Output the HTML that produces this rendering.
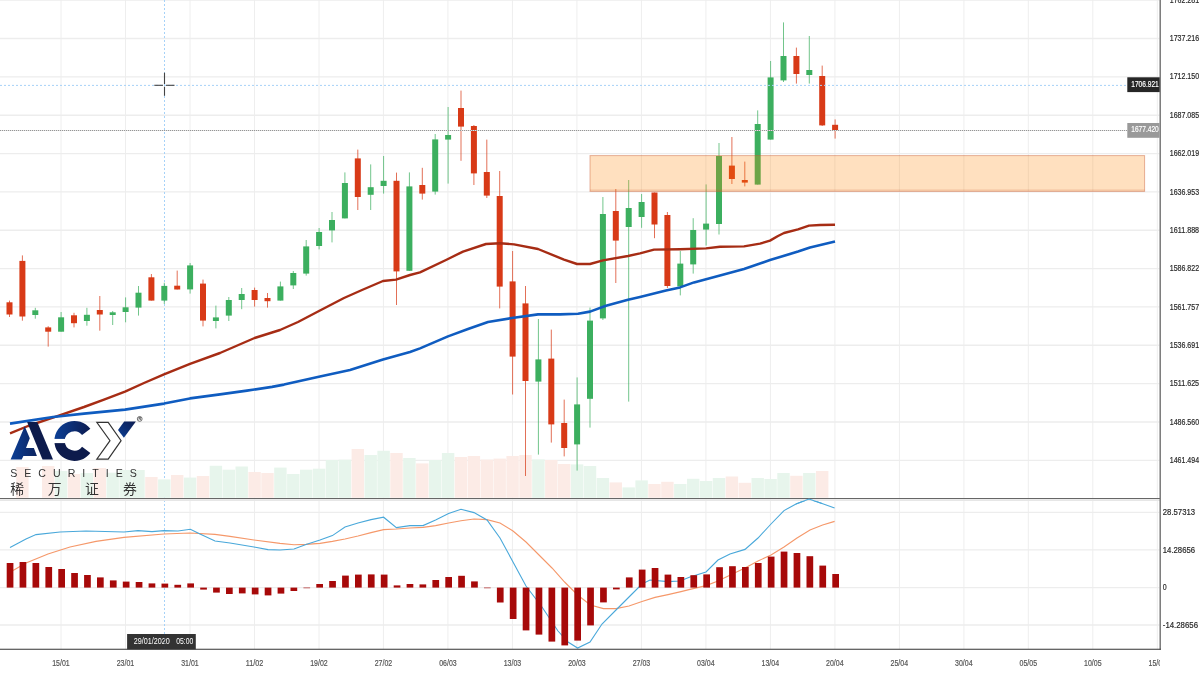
<!DOCTYPE html>
<html lang="zh"><head><meta charset="utf-8"><title>Chart</title>
<style>html,body{margin:0;padding:0;background:#fff;overflow:hidden}svg{display:block}</style></head>
<body>
<svg width="1200" height="675" viewBox="0 0 1200 675" font-family="'Liberation Sans', 'Noto Sans CJK SC', sans-serif">
<defs>
<linearGradient id="gA" x1="0" y1="0" x2="1" y2="0"><stop offset="0" stop-color="#0b3f96"/><stop offset="1" stop-color="#0d2460"/></linearGradient>
<linearGradient id="gC" x1="0" y1="0" x2="1" y2="0"><stop offset="0" stop-color="#0b3f96"/><stop offset="1" stop-color="#0d1c50"/></linearGradient>
<linearGradient id="gY" x1="0" y1="1" x2="1" y2="0"><stop offset="0" stop-color="#0b3f96"/><stop offset="1" stop-color="#0d1c50"/></linearGradient>
<clipPath id="cpMain"><rect x="0" y="0" width="1159.5" height="498"/></clipPath>
<clipPath id="cpMacd"><rect x="0" y="499" width="1159.5" height="150"/></clipPath>
<clipPath id="cpX"><rect x="0" y="650" width="1160" height="25"/></clipPath>
</defs>
<rect width="1200" height="675" fill="#fff"/>
<g stroke="#eeeeee" stroke-width="1">
<line x1="61.0" y1="0" x2="61.0" y2="649"/>
<line x1="125.5" y1="0" x2="125.5" y2="649"/>
<line x1="190.0" y1="0" x2="190.0" y2="649"/>
<line x1="254.5" y1="0" x2="254.5" y2="649"/>
<line x1="319.0" y1="0" x2="319.0" y2="649"/>
<line x1="383.4" y1="0" x2="383.4" y2="649"/>
<line x1="447.9" y1="0" x2="447.9" y2="649"/>
<line x1="512.4" y1="0" x2="512.4" y2="649"/>
<line x1="576.9" y1="0" x2="576.9" y2="649"/>
<line x1="641.4" y1="0" x2="641.4" y2="649"/>
<line x1="705.9" y1="0" x2="705.9" y2="649"/>
<line x1="770.4" y1="0" x2="770.4" y2="649"/>
<line x1="834.9" y1="0" x2="834.9" y2="649"/>
<line x1="899.4" y1="0" x2="899.4" y2="649"/>
<line x1="963.9" y1="0" x2="963.9" y2="649"/>
<line x1="1028.3" y1="0" x2="1028.3" y2="649"/>
<line x1="1092.8" y1="0" x2="1092.8" y2="649"/>
<line x1="1157.3" y1="0" x2="1157.3" y2="649"/>
</g>
<g stroke="#ededed" stroke-width="1.4">
<line x1="0" y1="0.1" x2="1159.5" y2="0.1"/>
<line x1="0" y1="38.5" x2="1159.5" y2="38.5"/>
<line x1="0" y1="76.9" x2="1159.5" y2="76.9"/>
<line x1="0" y1="115.2" x2="1159.5" y2="115.2"/>
<line x1="0" y1="153.6" x2="1159.5" y2="153.6"/>
<line x1="0" y1="191.9" x2="1159.5" y2="191.9"/>
<line x1="0" y1="230.3" x2="1159.5" y2="230.3"/>
<line x1="0" y1="268.6" x2="1159.5" y2="268.6"/>
<line x1="0" y1="306.9" x2="1159.5" y2="306.9"/>
<line x1="0" y1="345.3" x2="1159.5" y2="345.3"/>
<line x1="0" y1="383.6" x2="1159.5" y2="383.6"/>
<line x1="0" y1="422.0" x2="1159.5" y2="422.0"/>
<line x1="0" y1="460.4" x2="1159.5" y2="460.4"/>
<line x1="0" y1="512.4" x2="1159.5" y2="512.4"/>
<line x1="0" y1="549.9" x2="1159.5" y2="549.9"/>
<line x1="0" y1="587.6" x2="1159.5" y2="587.6"/>
<line x1="0" y1="625" x2="1159.5" y2="625"/>
</g>
<g stroke="#a6d2f8" stroke-width="1" stroke-dasharray="2 2">
<line x1="164.5" y1="0" x2="164.5" y2="634"/>
</g>
<g>
<rect x="16.2" y="467" width="12.4" height="30.8" fill="#fcebe6"/>
<rect x="42.0" y="466" width="12.4" height="31.8" fill="#fcebe6"/>
<rect x="54.9" y="471" width="12.4" height="26.8" fill="#e7f5ec"/>
<rect x="67.8" y="474" width="12.4" height="23.8" fill="#fcebe6"/>
<rect x="80.7" y="473" width="12.4" height="24.8" fill="#e7f5ec"/>
<rect x="93.6" y="468" width="12.4" height="29.8" fill="#fcebe6"/>
<rect x="106.5" y="472.7" width="12.4" height="25.1" fill="#e7f5ec"/>
<rect x="119.4" y="470" width="12.4" height="27.8" fill="#e7f5ec"/>
<rect x="132.3" y="470" width="12.4" height="27.8" fill="#e7f5ec"/>
<rect x="145.2" y="477" width="12.4" height="20.8" fill="#fcebe6"/>
<rect x="158.1" y="479.4" width="12.4" height="18.4" fill="#e7f5ec"/>
<rect x="171.0" y="475" width="12.4" height="22.8" fill="#fcebe6"/>
<rect x="183.9" y="477.6" width="12.4" height="20.2" fill="#e7f5ec"/>
<rect x="196.8" y="476" width="12.4" height="21.8" fill="#fcebe6"/>
<rect x="209.7" y="465.8" width="12.4" height="32.0" fill="#e7f5ec"/>
<rect x="222.6" y="469.7" width="12.4" height="28.1" fill="#e7f5ec"/>
<rect x="235.5" y="466.5" width="12.4" height="31.3" fill="#e7f5ec"/>
<rect x="248.4" y="472" width="12.4" height="25.8" fill="#fcebe6"/>
<rect x="261.3" y="473" width="12.4" height="24.8" fill="#fcebe6"/>
<rect x="274.2" y="467.6" width="12.4" height="30.2" fill="#e7f5ec"/>
<rect x="287.1" y="474" width="12.4" height="23.8" fill="#e7f5ec"/>
<rect x="300.0" y="469.7" width="12.4" height="28.1" fill="#e7f5ec"/>
<rect x="312.9" y="468.7" width="12.4" height="29.1" fill="#e7f5ec"/>
<rect x="325.8" y="460" width="12.4" height="37.8" fill="#e7f5ec"/>
<rect x="338.7" y="459.7" width="12.4" height="38.1" fill="#e7f5ec"/>
<rect x="351.6" y="449" width="12.4" height="48.8" fill="#fcebe6"/>
<rect x="364.5" y="455" width="12.4" height="42.8" fill="#e7f5ec"/>
<rect x="377.4" y="450.8" width="12.4" height="47.0" fill="#e7f5ec"/>
<rect x="390.3" y="453" width="12.4" height="44.8" fill="#fcebe6"/>
<rect x="403.2" y="458" width="12.4" height="39.8" fill="#e7f5ec"/>
<rect x="416.1" y="463.4" width="12.4" height="34.4" fill="#fcebe6"/>
<rect x="429.0" y="460" width="12.4" height="37.8" fill="#e7f5ec"/>
<rect x="441.9" y="453" width="12.4" height="44.8" fill="#e7f5ec"/>
<rect x="454.8" y="457" width="12.4" height="40.8" fill="#fcebe6"/>
<rect x="467.7" y="456" width="12.4" height="41.8" fill="#fcebe6"/>
<rect x="480.6" y="459.6" width="12.4" height="38.2" fill="#fcebe6"/>
<rect x="493.5" y="458.6" width="12.4" height="39.2" fill="#fcebe6"/>
<rect x="506.4" y="456" width="12.4" height="41.8" fill="#fcebe6"/>
<rect x="519.3" y="455" width="12.4" height="42.8" fill="#fcebe6"/>
<rect x="532.2" y="459.4" width="12.4" height="38.4" fill="#e7f5ec"/>
<rect x="545.1" y="460" width="12.4" height="37.8" fill="#fcebe6"/>
<rect x="558.0" y="464" width="12.4" height="33.8" fill="#fcebe6"/>
<rect x="570.9" y="464.4" width="12.4" height="33.4" fill="#e7f5ec"/>
<rect x="583.8" y="466" width="12.4" height="31.8" fill="#e7f5ec"/>
<rect x="596.7" y="478" width="12.4" height="19.8" fill="#e7f5ec"/>
<rect x="609.6" y="482.4" width="12.4" height="15.4" fill="#fcebe6"/>
<rect x="622.5" y="487.4" width="12.4" height="10.4" fill="#e7f5ec"/>
<rect x="635.4" y="480.4" width="12.4" height="17.4" fill="#e7f5ec"/>
<rect x="648.3" y="484" width="12.4" height="13.8" fill="#fcebe6"/>
<rect x="661.2" y="481.8" width="12.4" height="16.0" fill="#fcebe6"/>
<rect x="674.1" y="484" width="12.4" height="13.8" fill="#e7f5ec"/>
<rect x="687.0" y="478.8" width="12.4" height="19.0" fill="#e7f5ec"/>
<rect x="699.9" y="481" width="12.4" height="16.8" fill="#e7f5ec"/>
<rect x="712.8" y="478" width="12.4" height="19.8" fill="#e7f5ec"/>
<rect x="725.7" y="476.5" width="12.4" height="21.3" fill="#fcebe6"/>
<rect x="738.6" y="482.8" width="12.4" height="15.0" fill="#fcebe6"/>
<rect x="751.5" y="478" width="12.4" height="19.8" fill="#e7f5ec"/>
<rect x="764.4" y="479" width="12.4" height="18.8" fill="#e7f5ec"/>
<rect x="777.3" y="473" width="12.4" height="24.8" fill="#e7f5ec"/>
<rect x="790.2" y="475.8" width="12.4" height="22.0" fill="#fcebe6"/>
<rect x="803.1" y="473" width="12.4" height="24.8" fill="#e7f5ec"/>
<rect x="816.0" y="471" width="12.4" height="26.8" fill="#fcebe6"/>
</g>
<g clip-path="url(#cpMain)">
<line x1="9.5" y1="300.6" x2="9.5" y2="317.0" stroke="#d83a17" stroke-width="1" opacity="0.72"/>
<rect x="6.5" y="302.3" width="6" height="12.2" fill="#d83a17"/>
<line x1="22.4" y1="255.4" x2="22.4" y2="320.7" stroke="#d83a17" stroke-width="1" opacity="0.72"/>
<rect x="19.4" y="260.9" width="6" height="55.6" fill="#d83a17"/>
<line x1="35.3" y1="307.8" x2="35.3" y2="318.7" stroke="#3caf5f" stroke-width="1" opacity="0.72"/>
<rect x="32.3" y="310.3" width="6" height="4.7" fill="#3caf5f"/>
<line x1="48.2" y1="326.2" x2="48.2" y2="346.6" stroke="#d83a17" stroke-width="1" opacity="0.72"/>
<rect x="45.2" y="327.4" width="6" height="4.3" fill="#d83a17"/>
<line x1="61.1" y1="312.0" x2="61.1" y2="331.7" stroke="#3caf5f" stroke-width="1" opacity="0.72"/>
<rect x="58.1" y="317.3" width="6" height="14.4" fill="#3caf5f"/>
<line x1="74.0" y1="312.8" x2="74.0" y2="327.4" stroke="#d83a17" stroke-width="1" opacity="0.72"/>
<rect x="71.0" y="315.3" width="6" height="7.9" fill="#d83a17"/>
<line x1="86.9" y1="307.8" x2="86.9" y2="325.7" stroke="#3caf5f" stroke-width="1" opacity="0.72"/>
<rect x="83.9" y="314.8" width="6" height="6.2" fill="#3caf5f"/>
<line x1="99.8" y1="296.0" x2="99.8" y2="330.7" stroke="#d83a17" stroke-width="1" opacity="0.72"/>
<rect x="96.8" y="310.0" width="6" height="4.5" fill="#d83a17"/>
<line x1="112.7" y1="311.0" x2="112.7" y2="325.0" stroke="#3caf5f" stroke-width="1" opacity="0.72"/>
<rect x="109.7" y="312.3" width="6" height="2.7" fill="#3caf5f"/>
<line x1="125.6" y1="297.4" x2="125.6" y2="322.3" stroke="#3caf5f" stroke-width="1" opacity="0.72"/>
<rect x="122.6" y="307.3" width="6" height="4.7" fill="#3caf5f"/>
<line x1="138.5" y1="286.0" x2="138.5" y2="315.6" stroke="#3caf5f" stroke-width="1" opacity="0.72"/>
<rect x="135.5" y="292.7" width="6" height="14.9" fill="#3caf5f"/>
<line x1="151.4" y1="274.0" x2="151.4" y2="300.6" stroke="#d83a17" stroke-width="1" opacity="0.72"/>
<rect x="148.4" y="277.3" width="6" height="23.3" fill="#d83a17"/>
<line x1="164.3" y1="282.7" x2="164.3" y2="304.0" stroke="#3caf5f" stroke-width="1" opacity="0.72"/>
<rect x="161.3" y="285.9" width="6" height="14.7" fill="#3caf5f"/>
<line x1="177.2" y1="270.6" x2="177.2" y2="289.5" stroke="#d83a17" stroke-width="1" opacity="0.72"/>
<rect x="174.2" y="285.7" width="6" height="3.8" fill="#d83a17"/>
<line x1="190.1" y1="263.0" x2="190.1" y2="293.6" stroke="#3caf5f" stroke-width="1" opacity="0.72"/>
<rect x="187.1" y="265.4" width="6" height="24.0" fill="#3caf5f"/>
<line x1="203.0" y1="279.6" x2="203.0" y2="326.4" stroke="#d83a17" stroke-width="1" opacity="0.72"/>
<rect x="200.0" y="283.6" width="6" height="37.0" fill="#d83a17"/>
<line x1="215.9" y1="305.6" x2="215.9" y2="328.4" stroke="#3caf5f" stroke-width="1" opacity="0.72"/>
<rect x="212.9" y="317.4" width="6" height="3.6" fill="#3caf5f"/>
<line x1="228.8" y1="297.0" x2="228.8" y2="321.0" stroke="#3caf5f" stroke-width="1" opacity="0.72"/>
<rect x="225.8" y="300.0" width="6" height="15.6" fill="#3caf5f"/>
<line x1="241.7" y1="288.0" x2="241.7" y2="309.2" stroke="#3caf5f" stroke-width="1" opacity="0.72"/>
<rect x="238.7" y="294.0" width="6" height="6.0" fill="#3caf5f"/>
<line x1="254.6" y1="287.6" x2="254.6" y2="306.6" stroke="#d83a17" stroke-width="1" opacity="0.72"/>
<rect x="251.6" y="290.0" width="6" height="10.0" fill="#d83a17"/>
<line x1="267.5" y1="293.0" x2="267.5" y2="307.6" stroke="#d83a17" stroke-width="1" opacity="0.72"/>
<rect x="264.5" y="298.0" width="6" height="3.2" fill="#d83a17"/>
<line x1="280.4" y1="281.6" x2="280.4" y2="300.6" stroke="#3caf5f" stroke-width="1" opacity="0.72"/>
<rect x="277.4" y="286.4" width="6" height="14.2" fill="#3caf5f"/>
<line x1="293.3" y1="271.0" x2="293.3" y2="289.0" stroke="#3caf5f" stroke-width="1" opacity="0.72"/>
<rect x="290.3" y="273.0" width="6" height="12.4" fill="#3caf5f"/>
<line x1="306.2" y1="240.0" x2="306.2" y2="275.6" stroke="#3caf5f" stroke-width="1" opacity="0.72"/>
<rect x="303.2" y="246.4" width="6" height="27.2" fill="#3caf5f"/>
<line x1="319.1" y1="228.0" x2="319.1" y2="249.4" stroke="#3caf5f" stroke-width="1" opacity="0.72"/>
<rect x="316.1" y="232.0" width="6" height="14.0" fill="#3caf5f"/>
<line x1="332.0" y1="212.0" x2="332.0" y2="242.4" stroke="#3caf5f" stroke-width="1" opacity="0.72"/>
<rect x="329.0" y="220.0" width="6" height="10.4" fill="#3caf5f"/>
<line x1="344.9" y1="172.4" x2="344.9" y2="218.4" stroke="#3caf5f" stroke-width="1" opacity="0.72"/>
<rect x="341.9" y="183.0" width="6" height="35.4" fill="#3caf5f"/>
<line x1="357.8" y1="149.6" x2="357.8" y2="210.0" stroke="#d83a17" stroke-width="1" opacity="0.72"/>
<rect x="354.8" y="158.4" width="6" height="38.6" fill="#d83a17"/>
<line x1="370.7" y1="164.4" x2="370.7" y2="210.0" stroke="#3caf5f" stroke-width="1" opacity="0.72"/>
<rect x="367.7" y="187.2" width="6" height="7.6" fill="#3caf5f"/>
<line x1="383.6" y1="156.0" x2="383.6" y2="193.6" stroke="#3caf5f" stroke-width="1" opacity="0.72"/>
<rect x="380.6" y="180.8" width="6" height="5.2" fill="#3caf5f"/>
<line x1="396.5" y1="172.6" x2="396.5" y2="305.0" stroke="#d83a17" stroke-width="1" opacity="0.72"/>
<rect x="393.5" y="180.8" width="6" height="90.6" fill="#d83a17"/>
<line x1="409.4" y1="172.4" x2="409.4" y2="271.0" stroke="#3caf5f" stroke-width="1" opacity="0.72"/>
<rect x="406.4" y="186.4" width="6" height="84.4" fill="#3caf5f"/>
<line x1="422.3" y1="167.8" x2="422.3" y2="199.6" stroke="#d83a17" stroke-width="1" opacity="0.72"/>
<rect x="419.3" y="185.0" width="6" height="8.6" fill="#d83a17"/>
<line x1="435.2" y1="134.0" x2="435.2" y2="194.6" stroke="#3caf5f" stroke-width="1" opacity="0.72"/>
<rect x="432.2" y="139.4" width="6" height="52.2" fill="#3caf5f"/>
<line x1="448.1" y1="107.0" x2="448.1" y2="183.6" stroke="#3caf5f" stroke-width="1" opacity="0.72"/>
<rect x="445.1" y="135.0" width="6" height="4.6" fill="#3caf5f"/>
<line x1="461.0" y1="90.6" x2="461.0" y2="160.8" stroke="#d83a17" stroke-width="1" opacity="0.72"/>
<rect x="458.0" y="108.0" width="6" height="18.6" fill="#d83a17"/>
<line x1="473.9" y1="125.0" x2="473.9" y2="185.0" stroke="#d83a17" stroke-width="1" opacity="0.72"/>
<rect x="470.9" y="126.0" width="6" height="47.4" fill="#d83a17"/>
<line x1="486.8" y1="139.6" x2="486.8" y2="198.0" stroke="#d83a17" stroke-width="1" opacity="0.72"/>
<rect x="483.8" y="172.0" width="6" height="23.6" fill="#d83a17"/>
<line x1="499.7" y1="171.0" x2="499.7" y2="308.4" stroke="#d83a17" stroke-width="1" opacity="0.72"/>
<rect x="496.7" y="196.0" width="6" height="90.6" fill="#d83a17"/>
<line x1="512.6" y1="251.0" x2="512.6" y2="394.5" stroke="#d83a17" stroke-width="1" opacity="0.72"/>
<rect x="509.6" y="281.4" width="6" height="75.2" fill="#d83a17"/>
<line x1="525.5" y1="286.0" x2="525.5" y2="476.0" stroke="#d83a17" stroke-width="1" opacity="0.72"/>
<rect x="522.5" y="303.4" width="6" height="77.6" fill="#d83a17"/>
<line x1="538.4" y1="319.0" x2="538.4" y2="454.6" stroke="#3caf5f" stroke-width="1" opacity="0.72"/>
<rect x="535.4" y="359.4" width="6" height="22.2" fill="#3caf5f"/>
<line x1="551.3" y1="329.6" x2="551.3" y2="442.6" stroke="#d83a17" stroke-width="1" opacity="0.72"/>
<rect x="548.3" y="358.6" width="6" height="65.8" fill="#d83a17"/>
<line x1="564.2" y1="399.6" x2="564.2" y2="456.4" stroke="#d83a17" stroke-width="1" opacity="0.72"/>
<rect x="561.2" y="423.0" width="6" height="25.0" fill="#d83a17"/>
<line x1="577.1" y1="377.4" x2="577.1" y2="470.6" stroke="#3caf5f" stroke-width="1" opacity="0.72"/>
<rect x="574.1" y="404.4" width="6" height="40.0" fill="#3caf5f"/>
<line x1="590.0" y1="307.6" x2="590.0" y2="427.6" stroke="#3caf5f" stroke-width="1" opacity="0.72"/>
<rect x="587.0" y="320.6" width="6" height="78.2" fill="#3caf5f"/>
<line x1="602.9" y1="197.0" x2="602.9" y2="320.0" stroke="#3caf5f" stroke-width="1" opacity="0.72"/>
<rect x="599.9" y="214.0" width="6" height="104.4" fill="#3caf5f"/>
<line x1="615.8" y1="189.0" x2="615.8" y2="283.0" stroke="#d83a17" stroke-width="1" opacity="0.72"/>
<rect x="612.8" y="211.0" width="6" height="29.6" fill="#d83a17"/>
<line x1="628.7" y1="180.0" x2="628.7" y2="401.6" stroke="#3caf5f" stroke-width="1" opacity="0.72"/>
<rect x="625.7" y="208.0" width="6" height="19.0" fill="#3caf5f"/>
<line x1="641.6" y1="194.0" x2="641.6" y2="227.8" stroke="#3caf5f" stroke-width="1" opacity="0.72"/>
<rect x="638.6" y="202.0" width="6" height="15.0" fill="#3caf5f"/>
<line x1="654.5" y1="192.5" x2="654.5" y2="238.2" stroke="#d83a17" stroke-width="1" opacity="0.72"/>
<rect x="651.5" y="192.5" width="6" height="32.0" fill="#d83a17"/>
<line x1="667.4" y1="212.0" x2="667.4" y2="288.0" stroke="#d83a17" stroke-width="1" opacity="0.72"/>
<rect x="664.4" y="215.0" width="6" height="71.0" fill="#d83a17"/>
<line x1="680.3" y1="251.0" x2="680.3" y2="295.4" stroke="#3caf5f" stroke-width="1" opacity="0.72"/>
<rect x="677.3" y="263.6" width="6" height="22.8" fill="#3caf5f"/>
<line x1="693.2" y1="218.2" x2="693.2" y2="273.6" stroke="#3caf5f" stroke-width="1" opacity="0.72"/>
<rect x="690.2" y="230.0" width="6" height="34.4" fill="#3caf5f"/>
<line x1="706.1" y1="184.4" x2="706.1" y2="245.6" stroke="#3caf5f" stroke-width="1" opacity="0.72"/>
<rect x="703.1" y="223.6" width="6" height="6.0" fill="#3caf5f"/>
<line x1="719.0" y1="143.0" x2="719.0" y2="234.5" stroke="#3caf5f" stroke-width="1" opacity="0.72"/>
<rect x="716.0" y="156.0" width="6" height="68.0" fill="#3caf5f"/>
<line x1="731.9" y1="137.0" x2="731.9" y2="184.0" stroke="#d83a17" stroke-width="1" opacity="0.72"/>
<rect x="728.9" y="165.6" width="6" height="13.4" fill="#d83a17"/>
<line x1="744.8" y1="161.6" x2="744.8" y2="186.4" stroke="#d83a17" stroke-width="1" opacity="0.72"/>
<rect x="741.8" y="180.0" width="6" height="2.6" fill="#d83a17"/>
<line x1="757.7" y1="110.4" x2="757.7" y2="184.6" stroke="#3caf5f" stroke-width="1" opacity="0.72"/>
<rect x="754.7" y="124.0" width="6" height="60.6" fill="#3caf5f"/>
<line x1="770.6" y1="61.0" x2="770.6" y2="139.6" stroke="#3caf5f" stroke-width="1" opacity="0.72"/>
<rect x="767.6" y="77.4" width="6" height="62.2" fill="#3caf5f"/>
<line x1="783.5" y1="22.4" x2="783.5" y2="82.0" stroke="#3caf5f" stroke-width="1" opacity="0.72"/>
<rect x="780.5" y="56.0" width="6" height="24.4" fill="#3caf5f"/>
<line x1="796.4" y1="47.6" x2="796.4" y2="83.6" stroke="#d83a17" stroke-width="1" opacity="0.72"/>
<rect x="793.4" y="56.0" width="6" height="18.0" fill="#d83a17"/>
<line x1="809.3" y1="36.0" x2="809.3" y2="83.6" stroke="#3caf5f" stroke-width="1" opacity="0.72"/>
<rect x="806.3" y="70.0" width="6" height="5.0" fill="#3caf5f"/>
<line x1="822.2" y1="65.6" x2="822.2" y2="126.0" stroke="#d83a17" stroke-width="1" opacity="0.72"/>
<rect x="819.2" y="76.0" width="6" height="49.4" fill="#d83a17"/>
<line x1="835.1" y1="119.4" x2="835.1" y2="138.6" stroke="#d83a17" stroke-width="1" opacity="0.72"/>
<rect x="832.1" y="124.8" width="6" height="5.6" fill="#d83a17"/>
</g>
<path d="M10.0,433.4 L28.0,426.0 L53.0,417.6 L84.0,407.0 L104.0,399.6 L125.0,391.6 L144.0,383.0 L164.0,374.4 L190.0,363.8 L220.0,353.0 L254.6,338.0 L280.0,330.0 L298.0,322.0 L319.0,311.0 L344.0,298.0 L362.0,290.0 L383.0,281.0 L396.0,279.6 L410.0,275.0 L420.0,272.4 L446.0,260.0 L463.0,251.6 L486.0,244.0 L500.0,243.2 L514.0,244.4 L538.0,249.0 L564.0,259.6 L577.0,264.0 L590.0,264.0 L603.0,260.4 L628.0,256.0 L640.0,253.4 L654.0,249.6 L680.0,249.2 L706.0,248.4 L720.0,246.8 L744.0,246.4 L760.0,243.6 L770.0,240.6 L778.0,236.0 L784.0,233.0 L798.0,229.4 L809.0,225.6 L820.0,225.0 L835.0,224.8" fill="none" stroke="#a62c14" stroke-width="2.4" stroke-linejoin="round"/>
<path d="M10.0,423.6 L53.0,417.0 L84.0,413.6 L125.0,409.6 L164.0,403.6 L190.0,398.4 L220.0,394.4 L247.0,390.6 L272.0,386.9 L284.0,384.6 L320.0,376.4 L350.0,370.0 L383.0,359.6 L410.0,352.0 L420.0,348.4 L448.0,336.4 L468.0,329.0 L488.0,322.0 L512.0,318.0 L538.0,314.4 L560.0,314.4 L578.0,313.8 L590.0,311.6 L606.0,305.8 L628.0,299.8 L640.0,297.0 L666.0,290.4 L680.0,287.4 L694.0,282.4 L720.0,275.4 L744.0,269.0 L770.0,260.0 L798.0,251.6 L810.0,247.4 L835.0,241.5" fill="none" stroke="#0f5cc0" stroke-width="2.6" stroke-linejoin="round"/>
<rect x="590" y="155.6" width="554.6" height="35.8" fill="rgb(255,130,0)" fill-opacity="0.25" stroke="rgb(200,90,50)" stroke-opacity="0.45" stroke-width="1"/>
<line x1="590" y1="190.2" x2="1144.6" y2="190.2" stroke="rgb(200,90,50)" stroke-opacity="0.22" stroke-width="1.2"/>
<line x1="0" y1="85.4" x2="1127" y2="85.4" stroke="#a6d2f8" stroke-width="1" stroke-dasharray="2 2"/>
<line x1="0" y1="130.5" x2="1127" y2="130.5" stroke="#e4e4e4" stroke-width="1"/>
<line x1="0" y1="130.5" x2="1127" y2="130.5" stroke="#959595" stroke-width="1" stroke-dasharray="1 1"/>
<g stroke="#444" stroke-width="1.1">
<line x1="154.3" y1="85.3" x2="163" y2="85.3"/><line x1="166" y1="85.3" x2="174.5" y2="85.3"/>
<line x1="164.5" y1="72.7" x2="164.5" y2="84"/><line x1="164.5" y1="86.7" x2="164.5" y2="95.8"/>
</g>
<g clip-path="url(#cpMacd)">
<path d="M13.0,570.4 L26.0,563.0 L48.0,554.0 L70.0,547.0 L96.0,541.4 L124.0,537.4 L164.0,534.0 L190.0,533.0 L215.0,534.4 L230.0,536.4 L254.0,540.0 L280.0,543.4 L294.0,544.8 L306.0,544.4 L320.0,543.4 L332.4,541.4 L345.0,539.0 L358.0,536.0 L371.0,532.6 L383.6,529.6 L396.4,529.0 L410.0,528.0 L423.0,527.4 L435.6,525.6 L448.6,523.0 L461.0,520.8 L474.0,519.0 L487.0,519.6 L500.0,523.0 L513.0,531.0 L526.0,542.0 L540.0,556.0 L552.0,568.0 L564.6,582.0 L577.6,595.0 L590.4,605.0 L603.4,608.6 L616.0,608.6 L629.0,606.0 L642.0,601.6 L655.0,597.4 L668.0,594.6 L681.0,591.6 L690.0,589.4 L706.0,585.6 L718.0,581.0 L732.4,574.0 L745.0,568.0 L758.0,561.0 L771.0,555.0 L784.0,547.0 L797.0,538.0 L810.0,530.0 L822.6,525.0 L834.6,521.4" fill="none" stroke="#f5986a" stroke-width="1.1"/>
<path d="M10.0,547.4 L26.0,539.0 L36.0,534.6 L60.0,532.0 L86.0,531.0 L124.0,532.0 L138.0,530.6 L152.0,531.6 L164.0,530.6 L178.0,531.0 L190.4,529.2 L200.0,534.0 L215.0,541.0 L230.0,543.0 L254.0,547.0 L268.0,549.6 L280.0,550.0 L294.0,549.0 L306.0,544.4 L320.0,540.0 L332.4,535.6 L345.0,527.0 L358.0,523.0 L371.0,519.6 L383.6,517.2 L396.4,527.6 L410.0,525.6 L423.0,525.6 L435.6,520.0 L448.6,513.6 L461.0,509.2 L474.0,512.6 L487.0,520.0 L500.0,538.0 L513.0,562.0 L526.0,586.0 L542.0,607.0 L558.0,631.0 L568.0,642.0 L577.6,648.0 L590.0,642.0 L602.0,624.0 L616.0,610.0 L632.0,594.0 L642.0,584.0 L650.0,580.0 L668.0,581.6 L680.0,581.0 L690.0,577.0 L706.0,572.0 L718.0,560.0 L730.0,554.0 L745.0,549.4 L758.0,538.0 L771.0,524.0 L784.0,510.6 L796.0,504.0 L809.0,499.0 L822.0,503.6 L834.6,508.0" fill="none" stroke="#49a8da" stroke-width="1.1"/>
<rect x="6.7" y="563.0" width="6.7" height="24.6" fill="#a70909"/>
<rect x="19.6" y="562.0" width="6.7" height="25.6" fill="#a70909"/>
<rect x="32.5" y="563.0" width="6.7" height="24.6" fill="#a70909"/>
<rect x="45.4" y="567.0" width="6.7" height="20.6" fill="#a70909"/>
<rect x="58.3" y="569.0" width="6.7" height="18.6" fill="#a70909"/>
<rect x="71.2" y="573.0" width="6.7" height="14.6" fill="#a70909"/>
<rect x="84.1" y="575.0" width="6.7" height="12.6" fill="#a70909"/>
<rect x="97.0" y="577.4" width="6.7" height="10.2" fill="#a70909"/>
<rect x="109.9" y="580.4" width="6.7" height="7.2" fill="#a70909"/>
<rect x="122.8" y="581.6" width="6.7" height="6.0" fill="#a70909"/>
<rect x="135.7" y="582.0" width="6.7" height="5.6" fill="#a70909"/>
<rect x="148.6" y="583.4" width="6.7" height="4.2" fill="#a70909"/>
<rect x="161.5" y="583.6" width="6.7" height="4.0" fill="#a70909"/>
<rect x="174.4" y="584.8" width="6.7" height="2.8" fill="#a70909"/>
<rect x="187.3" y="583.4" width="6.7" height="4.2" fill="#a70909"/>
<rect x="200.2" y="587.6" width="6.7" height="2.0" fill="#a70909"/>
<rect x="213.1" y="587.6" width="6.7" height="5.0" fill="#a70909"/>
<rect x="226.0" y="587.6" width="6.7" height="6.4" fill="#a70909"/>
<rect x="238.9" y="587.6" width="6.7" height="5.8" fill="#a70909"/>
<rect x="251.8" y="587.6" width="6.7" height="6.8" fill="#a70909"/>
<rect x="264.7" y="587.6" width="6.7" height="7.8" fill="#a70909"/>
<rect x="277.6" y="587.6" width="6.7" height="6.0" fill="#a70909"/>
<rect x="290.5" y="587.6" width="6.7" height="3.4" fill="#a70909"/>
<rect x="303.4" y="587.6" width="6.7" height="0.6" fill="#a70909"/>
<rect x="316.3" y="584.0" width="6.7" height="3.6" fill="#a70909"/>
<rect x="329.2" y="581.0" width="6.7" height="6.6" fill="#a70909"/>
<rect x="342.1" y="575.6" width="6.7" height="12.0" fill="#a70909"/>
<rect x="355.0" y="574.6" width="6.7" height="13.0" fill="#a70909"/>
<rect x="367.9" y="574.4" width="6.7" height="13.2" fill="#a70909"/>
<rect x="380.8" y="574.6" width="6.7" height="13.0" fill="#a70909"/>
<rect x="393.7" y="585.4" width="6.7" height="2.2" fill="#a70909"/>
<rect x="406.6" y="584.0" width="6.7" height="3.6" fill="#a70909"/>
<rect x="419.5" y="584.4" width="6.7" height="3.2" fill="#a70909"/>
<rect x="432.4" y="580.0" width="6.7" height="7.6" fill="#a70909"/>
<rect x="445.3" y="577.0" width="6.7" height="10.6" fill="#a70909"/>
<rect x="458.2" y="575.8" width="6.7" height="11.8" fill="#a70909"/>
<rect x="471.1" y="581.4" width="6.7" height="6.2" fill="#a70909"/>
<rect x="484.0" y="587.6" width="6.7" height="0.6" fill="#a70909"/>
<rect x="496.9" y="587.6" width="6.7" height="14.9" fill="#a70909"/>
<rect x="509.8" y="587.6" width="6.7" height="31.4" fill="#a70909"/>
<rect x="522.7" y="587.6" width="6.7" height="42.8" fill="#a70909"/>
<rect x="535.6" y="587.6" width="6.7" height="47.0" fill="#a70909"/>
<rect x="548.5" y="587.6" width="6.7" height="54.0" fill="#a70909"/>
<rect x="561.4" y="587.6" width="6.7" height="57.8" fill="#a70909"/>
<rect x="574.3" y="587.6" width="6.7" height="53.0" fill="#a70909"/>
<rect x="587.2" y="587.6" width="6.7" height="37.8" fill="#a70909"/>
<rect x="600.1" y="587.6" width="6.7" height="14.8" fill="#a70909"/>
<rect x="613.0" y="587.6" width="6.7" height="1.8" fill="#a70909"/>
<rect x="625.9" y="577.4" width="6.7" height="10.2" fill="#a70909"/>
<rect x="638.8" y="569.6" width="6.7" height="18.0" fill="#a70909"/>
<rect x="651.7" y="568.0" width="6.7" height="19.6" fill="#a70909"/>
<rect x="664.6" y="574.6" width="6.7" height="13.0" fill="#a70909"/>
<rect x="677.5" y="577.0" width="6.7" height="10.6" fill="#a70909"/>
<rect x="690.4" y="575.2" width="6.7" height="12.4" fill="#a70909"/>
<rect x="703.3" y="574.4" width="6.7" height="13.2" fill="#a70909"/>
<rect x="716.2" y="567.2" width="6.7" height="20.4" fill="#a70909"/>
<rect x="729.1" y="566.2" width="6.7" height="21.4" fill="#a70909"/>
<rect x="742.0" y="567.0" width="6.7" height="20.6" fill="#a70909"/>
<rect x="754.9" y="563.0" width="6.7" height="24.6" fill="#a70909"/>
<rect x="767.8" y="556.6" width="6.7" height="31.0" fill="#a70909"/>
<rect x="780.7" y="551.6" width="6.7" height="36.0" fill="#a70909"/>
<rect x="793.6" y="553.0" width="6.7" height="34.6" fill="#a70909"/>
<rect x="806.5" y="556.2" width="6.7" height="31.4" fill="#a70909"/>
<rect x="819.4" y="565.6" width="6.7" height="22.0" fill="#a70909"/>
<rect x="832.3" y="574.0" width="6.7" height="13.6" fill="#a70909"/>
</g>
<line x1="0" y1="500.1" x2="1160" y2="500.1" stroke="#e6e6e6" stroke-width="1.6"/>
<line x1="0" y1="498.5" x2="1160" y2="498.5" stroke="#666" stroke-width="1.2"/>
<path d="M796,504 L809,499 L822,503.6" fill="none" stroke="#49a8da" stroke-width="1.1"/>
<line x1="1160.2" y1="0" x2="1160.2" y2="649.5" stroke="#707070" stroke-width="1.4"/>
<line x1="0" y1="649.3" x2="1160.9" y2="649.3" stroke="#333" stroke-width="1.1"/>
<text x="1169.8" y="2.8" font-size="8.7" fill="#2a2a2a" stroke="#2a2a2a" stroke-width="0.2" text-anchor="start" textLength="29.3" lengthAdjust="spacingAndGlyphs">1762.281</text>
<text x="1169.8" y="41.1" font-size="8.7" fill="#2a2a2a" stroke="#2a2a2a" stroke-width="0.2" text-anchor="start" textLength="29.3" lengthAdjust="spacingAndGlyphs">1737.216</text>
<text x="1169.8" y="78.5" font-size="8.7" fill="#2a2a2a" stroke="#2a2a2a" stroke-width="0.2" text-anchor="start" textLength="29.3" lengthAdjust="spacingAndGlyphs">1712.150</text>
<text x="1169.8" y="117.8" font-size="8.7" fill="#2a2a2a" stroke="#2a2a2a" stroke-width="0.2" text-anchor="start" textLength="29.3" lengthAdjust="spacingAndGlyphs">1687.085</text>
<text x="1169.8" y="156.2" font-size="8.7" fill="#2a2a2a" stroke="#2a2a2a" stroke-width="0.2" text-anchor="start" textLength="29.3" lengthAdjust="spacingAndGlyphs">1662.019</text>
<text x="1169.8" y="194.5" font-size="8.7" fill="#2a2a2a" stroke="#2a2a2a" stroke-width="0.2" text-anchor="start" textLength="29.3" lengthAdjust="spacingAndGlyphs">1636.953</text>
<text x="1169.8" y="232.9" font-size="8.7" fill="#2a2a2a" stroke="#2a2a2a" stroke-width="0.2" text-anchor="start" textLength="29.3" lengthAdjust="spacingAndGlyphs">1611.888</text>
<text x="1169.8" y="271.2" font-size="8.7" fill="#2a2a2a" stroke="#2a2a2a" stroke-width="0.2" text-anchor="start" textLength="29.3" lengthAdjust="spacingAndGlyphs">1586.822</text>
<text x="1169.8" y="309.6" font-size="8.7" fill="#2a2a2a" stroke="#2a2a2a" stroke-width="0.2" text-anchor="start" textLength="29.3" lengthAdjust="spacingAndGlyphs">1561.757</text>
<text x="1169.8" y="347.9" font-size="8.7" fill="#2a2a2a" stroke="#2a2a2a" stroke-width="0.2" text-anchor="start" textLength="29.3" lengthAdjust="spacingAndGlyphs">1536.691</text>
<text x="1169.8" y="386.3" font-size="8.7" fill="#2a2a2a" stroke="#2a2a2a" stroke-width="0.2" text-anchor="start" textLength="29.3" lengthAdjust="spacingAndGlyphs">1511.625</text>
<text x="1169.8" y="424.6" font-size="8.7" fill="#2a2a2a" stroke="#2a2a2a" stroke-width="0.2" text-anchor="start" textLength="29.3" lengthAdjust="spacingAndGlyphs">1486.560</text>
<text x="1169.8" y="463.0" font-size="8.7" fill="#2a2a2a" stroke="#2a2a2a" stroke-width="0.2" text-anchor="start" textLength="29.3" lengthAdjust="spacingAndGlyphs">1461.494</text>
<text x="1162.8" y="515.1" font-size="8.7" fill="#2a2a2a" stroke="#2a2a2a" stroke-width="0.2" text-anchor="start" textLength="32.3" lengthAdjust="spacingAndGlyphs">28.57313</text>
<text x="1162.8" y="552.6" font-size="8.7" fill="#2a2a2a" stroke="#2a2a2a" stroke-width="0.2" text-anchor="start" textLength="32.3" lengthAdjust="spacingAndGlyphs">14.28656</text>
<text x="1162.8" y="590.3" font-size="8.7" fill="#2a2a2a" stroke="#2a2a2a" stroke-width="0.2" text-anchor="start" textLength="3.9" lengthAdjust="spacingAndGlyphs">0</text>
<text x="1162.8" y="627.7" font-size="8.7" fill="#2a2a2a" stroke="#2a2a2a" stroke-width="0.2" text-anchor="start" textLength="35.2" lengthAdjust="spacingAndGlyphs">-14.28656</text>
<rect x="1127.3" y="77.3" width="32.4" height="14.8" fill="#262626"/>
<text x="1131.3" y="87.0" font-size="9.2" fill="#fff" stroke="#fff" stroke-width="0.2" text-anchor="start" textLength="27.4" lengthAdjust="spacingAndGlyphs">1706.921</text>
<rect x="1127.3" y="123" width="32.4" height="14.8" fill="#999"/>
<text x="1131.3" y="132.1" font-size="9.2" fill="#fff" stroke="#fff" stroke-width="0.2" text-anchor="start" textLength="27.4" lengthAdjust="spacingAndGlyphs">1677.420</text>
<g clip-path="url(#cpX)">
<text x="52.2" y="665.9" font-size="9" fill="#555" stroke="#555" stroke-width="0.2" text-anchor="start" textLength="17.5" lengthAdjust="spacingAndGlyphs">15/01</text>
<text x="116.7" y="665.9" font-size="9" fill="#555" stroke="#555" stroke-width="0.2" text-anchor="start" textLength="17.5" lengthAdjust="spacingAndGlyphs">23/01</text>
<text x="181.2" y="665.9" font-size="9" fill="#555" stroke="#555" stroke-width="0.2" text-anchor="start" textLength="17.5" lengthAdjust="spacingAndGlyphs">31/01</text>
<text x="245.7" y="665.9" font-size="9" fill="#555" stroke="#555" stroke-width="0.2" text-anchor="start" textLength="17.5" lengthAdjust="spacingAndGlyphs">11/02</text>
<text x="310.2" y="665.9" font-size="9" fill="#555" stroke="#555" stroke-width="0.2" text-anchor="start" textLength="17.5" lengthAdjust="spacingAndGlyphs">19/02</text>
<text x="374.7" y="665.9" font-size="9" fill="#555" stroke="#555" stroke-width="0.2" text-anchor="start" textLength="17.5" lengthAdjust="spacingAndGlyphs">27/02</text>
<text x="439.2" y="665.9" font-size="9" fill="#555" stroke="#555" stroke-width="0.2" text-anchor="start" textLength="17.5" lengthAdjust="spacingAndGlyphs">06/03</text>
<text x="503.7" y="665.9" font-size="9" fill="#555" stroke="#555" stroke-width="0.2" text-anchor="start" textLength="17.5" lengthAdjust="spacingAndGlyphs">13/03</text>
<text x="568.2" y="665.9" font-size="9" fill="#555" stroke="#555" stroke-width="0.2" text-anchor="start" textLength="17.5" lengthAdjust="spacingAndGlyphs">20/03</text>
<text x="632.7" y="665.9" font-size="9" fill="#555" stroke="#555" stroke-width="0.2" text-anchor="start" textLength="17.5" lengthAdjust="spacingAndGlyphs">27/03</text>
<text x="697.1" y="665.9" font-size="9" fill="#555" stroke="#555" stroke-width="0.2" text-anchor="start" textLength="17.5" lengthAdjust="spacingAndGlyphs">03/04</text>
<text x="761.6" y="665.9" font-size="9" fill="#555" stroke="#555" stroke-width="0.2" text-anchor="start" textLength="17.5" lengthAdjust="spacingAndGlyphs">13/04</text>
<text x="826.1" y="665.9" font-size="9" fill="#555" stroke="#555" stroke-width="0.2" text-anchor="start" textLength="17.5" lengthAdjust="spacingAndGlyphs">20/04</text>
<text x="890.6" y="665.9" font-size="9" fill="#555" stroke="#555" stroke-width="0.2" text-anchor="start" textLength="17.5" lengthAdjust="spacingAndGlyphs">25/04</text>
<text x="955.1" y="665.9" font-size="9" fill="#555" stroke="#555" stroke-width="0.2" text-anchor="start" textLength="17.5" lengthAdjust="spacingAndGlyphs">30/04</text>
<text x="1019.6" y="665.9" font-size="9" fill="#555" stroke="#555" stroke-width="0.2" text-anchor="start" textLength="17.5" lengthAdjust="spacingAndGlyphs">05/05</text>
<text x="1084.1" y="665.9" font-size="9" fill="#555" stroke="#555" stroke-width="0.2" text-anchor="start" textLength="17.5" lengthAdjust="spacingAndGlyphs">10/05</text>
<text x="1148.6" y="665.9" font-size="9" fill="#555" stroke="#555" stroke-width="0.2" text-anchor="start" textLength="17.5" lengthAdjust="spacingAndGlyphs">15/05</text>
</g>
<rect x="127.1" y="634" width="68.7" height="15.3" fill="#333"/>
<text y="644.3" font-size="9" fill="#fff"><tspan x="133.7" textLength="36.1" lengthAdjust="spacingAndGlyphs">29/01/2020</tspan> <tspan x="176.2" textLength="17.1" lengthAdjust="spacingAndGlyphs">05:00</tspan></text>
<line x1="164.5" y1="634" x2="164.5" y2="649" stroke="#2c3e50" stroke-width="1" stroke-dasharray="2 2" opacity="0.5"/>
<g id="logo">
<polygon points="27.1,422.1 37.3,422.1 53,459.6 42.5,459.6" fill="#0d1b4c"/>
<polygon points="10.6,459.6 24.7,426.3 29.8,438.3 26,448 33.9,448 36.9,455.9 23.4,455.9 21.7,459.6" fill="url(#gA)"/>
<path d="M90.37,428.86 A20.0,20.0 0 0 0 54.40,440.90 L64.80,440.90 A9.6,9.6 0 0 1 82.07,435.12 Z" fill="url(#gC)"/>
<path d="M54.40,440.90 A20.0,20.0 0 0 0 90.37,452.94 L82.07,446.68 A9.6,9.6 0 0 1 64.80,440.90 Z" fill="#0d1b4c"/>
<rect x="53" y="438.9" width="13.0" height="4.2" fill="#fff"/>
<polygon points="96.8,422.4 108.2,422.4 121.1,440.7 108.2,459.1 96.8,459.1 110,440.7" fill="#fff" stroke="#333" stroke-width="1.15" stroke-linejoin="miter"/>
<polygon points="124.2,421.6 135.9,421.6 123.9,437.7 118,429.9" fill="url(#gY)"/>
<circle cx="139.7" cy="418.9" r="2.4" fill="none" stroke="#333" stroke-width="0.7"/>
<text x="139.7" y="420.1" font-size="3.6" font-weight="bold" fill="#333" text-anchor="middle">R</text>
<text x="10.2" y="476.5" font-size="10.6" fill="#333" textLength="126.6" lengthAdjust="spacing">SECURITIES</text>
<text transform="translate(17.3,493.7) scale(1.06,1)" x="0" y="0" font-size="13.1" fill="#333" text-anchor="middle" font-family="'Liberation Sans', 'Noto Sans CJK SC', sans-serif">稀</text>
<text transform="translate(54.7,493.7) scale(1.06,1)" x="0" y="0" font-size="13.1" fill="#333" text-anchor="middle" font-family="'Liberation Sans', 'Noto Sans CJK SC', sans-serif">万</text>
<text transform="translate(92,493.7) scale(1.06,1)" x="0" y="0" font-size="13.1" fill="#333" text-anchor="middle" font-family="'Liberation Sans', 'Noto Sans CJK SC', sans-serif">证</text>
<text transform="translate(130,493.7) scale(1.06,1)" x="0" y="0" font-size="13.1" fill="#333" text-anchor="middle" font-family="'Liberation Sans', 'Noto Sans CJK SC', sans-serif">券</text>
</g>
</svg>
</body></html>
